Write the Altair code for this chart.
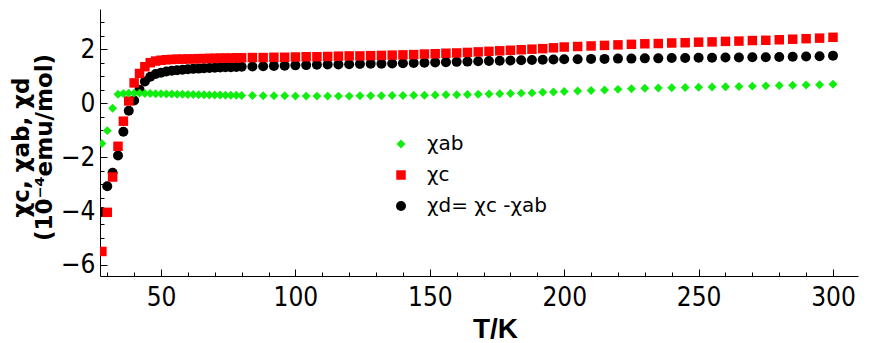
import altair as alt
import pandas as pd

# Temperature grid (K)
T = [28, 30, 32, 34, 36, 38, 40, 42, 44, 46, 48, 50, 52, 54, 56, 58, 60, 62, 64, 66, 68, 70, 72, 74, 76, 78, 80,
     84, 88, 92, 96, 100, 104, 108, 112, 116, 120, 124, 128, 132, 136, 140, 144, 148, 152, 156, 160,
     164, 168, 172, 176, 180, 184, 188, 192, 196, 200,
     205, 210, 215, 220, 225, 230, 235, 240, 245, 250, 255, 260, 265, 270, 275, 280, 285, 290, 295, 300]

chi_ab = [-1.50, -1.02, -0.19, 0.33, 0.36, 0.37, 0.37, 0.37, 0.36, 0.36, 0.35, 0.35, 0.34, 0.34, 0.33, 0.33, 0.32,
          0.32, 0.31, 0.31, 0.30, 0.30, 0.30, 0.29, 0.29, 0.29, 0.28,
          0.28, 0.27, 0.27, 0.27, 0.26, 0.26, 0.26, 0.26, 0.26, 0.26, 0.27, 0.27, 0.27, 0.28, 0.28,
          0.29, 0.29, 0.30, 0.31, 0.31, 0.32, 0.33, 0.34, 0.35, 0.36, 0.37, 0.38, 0.40, 0.41, 0.43,
          0.45, 0.47, 0.49, 0.51, 0.53, 0.55, 0.56, 0.57, 0.58, 0.59, 0.60, 0.61, 0.62, 0.63,
          0.64, 0.65, 0.66, 0.67, 0.68, 0.70]

chi_c = [-5.50, -4.05, -2.74, -1.60, -0.67, 0.08, 0.75, 1.10, 1.35, 1.50, 1.56, 1.59, 1.61, 1.62, 1.63, 1.63, 1.64,
         1.64, 1.65, 1.65, 1.66, 1.66, 1.67, 1.67, 1.67, 1.68, 1.68,
         1.69, 1.69, 1.70, 1.70, 1.71, 1.72, 1.72, 1.73, 1.74, 1.75, 1.75, 1.76, 1.77, 1.78, 1.79,
         1.80, 1.82, 1.83, 1.85, 1.86, 1.88, 1.90, 1.92, 1.94, 1.96, 1.98, 2.00, 2.02, 2.05, 2.08,
         2.10, 2.12, 2.14, 2.16, 2.18, 2.20, 2.21, 2.23, 2.24, 2.26, 2.27, 2.29, 2.30, 2.32,
         2.33, 2.35, 2.37, 2.39, 2.41, 2.44]

chi_d = [-4.04, -3.08, -2.58, -1.94, -1.06, -0.28, 0.10, 0.50, 0.80, 0.98, 1.08, 1.13, 1.17, 1.20, 1.22, 1.24, 1.26,
         1.27, 1.28, 1.29, 1.30, 1.31, 1.32, 1.33, 1.33, 1.34, 1.35,
         1.36, 1.37, 1.38, 1.39, 1.40, 1.41, 1.42, 1.43, 1.43, 1.44, 1.45, 1.46, 1.46, 1.47, 1.48,
         1.49, 1.50, 1.51, 1.52, 1.53, 1.54, 1.55, 1.56, 1.57, 1.58, 1.59, 1.60, 1.61, 1.62, 1.63,
         1.63, 1.64, 1.64, 1.65, 1.65, 1.66, 1.66, 1.67, 1.67, 1.68, 1.68, 1.69, 1.69, 1.70,
         1.70, 1.71, 1.72, 1.73, 1.74, 1.76]

series_names = ["χab", "χc", "χd= χc -χab"]
series_colors = ["#10ee10", "#ff0000", "#000000"]
series_shapes = ["diamond", "square", "circle"]
series_sizes = [80, 100, 115]

x_label_values = [50, 100, 150, 200, 250, 300]
x_tick_values = [30, 40, 50, 60, 70, 80, 90, 100, 110, 120, 130, 140, 150, 160, 170, 180, 190, 200,
                 210, 220, 230, 240, 250, 260, 270, 280, 290, 300]
y_label_values = [-6, -4, -2, 0, 2]
y_tick_values = [-6, -5.5, -5, -4.5, -4, -3.5, -3, -2.5, -2, -1.5, -1, -0.5, 0, 0.5, 1, 1.5, 2, 2.5, 3]

x_domain = [27.3, 309.3]
y_domain = [-6.41, 3.49]

W, H = 758, 267

rows = []
# drawing order: black first, red, green on top
for name, vals in [(series_names[2], chi_d), (series_names[1], chi_c), (series_names[0], chi_ab)]:
    for t, v in zip(T, vals):
        rows.append({"T": t, "chi": v, "series": name})
df = pd.DataFrame(rows)

tick_font = "Liberation Sans Narrow, DejaVu Sans Condensed, Liberation Sans"

xscale = alt.Scale(domain=x_domain, nice=False, zero=False)
yscale = alt.Scale(domain=y_domain, nice=False, zero=False)

leg = alt.Legend(title=None, orient="none", legendX=291, legendY=125,
                 labelFont="DejaVu Sans", labelFontSize=20, labelColor="black",
                 labelOffset=16, rowPadding=11, padding=0, symbolStrokeWidth=0)

points = alt.Chart(df).mark_point(filled=True, opacity=1, clip=True).encode(
    x=alt.X("T:Q", scale=xscale,
            axis=alt.Axis(orient="bottom", values=x_label_values, ticks=False, tickSize=0,
                          labelPadding=8, grid=False, domainColor="black", domainWidth=1,
                          labelFont=tick_font, labelFontSize=26, labelColor="black",
                          title="T/K", titleFont="Liberation Sans", titleFontSize=28,
                          titleFontWeight="bold", titleColor="black", titleX=395, titleY=61,
                          titleBaseline="alphabetic", titleAlign="center")),
    y=alt.Y("chi:Q", scale=yscale,
            axis=alt.Axis(orient="left", values=y_label_values, ticks=False, tickSize=0,
                          labelPadding=5, grid=False, domainColor="black", domainWidth=1,
                          labelFont=tick_font, labelFontSize=26, labelColor="black",
                          title=["χc, χab, χd", "(10⁻⁴emu/mol)"], titleFont="DejaVu Sans",
                          titleFontSize=23, titleFontWeight="bold", titleColor="black",
                          titleAngle=270, titleX=-79, titleY=138, titleAlign="center",
                          titleBaseline="middle", titleLineHeight=23)),
    color=alt.Color("series:N", scale=alt.Scale(domain=series_names, range=series_colors), legend=leg),
    shape=alt.Shape("series:N", scale=alt.Scale(domain=series_names, range=series_shapes), legend=leg),
    size=alt.Size("series:N", scale=alt.Scale(domain=series_names, range=series_sizes), legend=leg),
)

tick_layer = alt.Chart(df).mark_point(opacity=0).encode(
    x=alt.X("T:Q", scale=xscale,
            axis=alt.Axis(orient="top", offset=-H, values=x_tick_values, labels=False, domain=False,
                          grid=False, title=None, tickColor="black", tickWidth=1,
                          tickSize={"condition": {"test": "datum.value % 50 === 0", "value": 7}, "value": 4})),
    y=alt.Y("chi:Q", scale=yscale,
            axis=alt.Axis(orient="right", offset=-W, values=y_tick_values, labels=False, domain=False,
                          grid=False, title=None, tickColor="black", tickWidth=1,
                          tickSize={"condition": {"test": "datum.value % 2 === 0", "value": 7}, "value": 4})),
)

chart = alt.layer(tick_layer, points).resolve_axis(x="independent", y="independent").properties(
    width=W, height=H,
    autosize=alt.AutoSizeParams(type="none"),
    padding={"left": 92, "top": 1, "right": 3, "bottom": 66},
).configure_view(stroke=None)

chart.save("out.html", embed_options={"renderer": "svg", "actions": False})
